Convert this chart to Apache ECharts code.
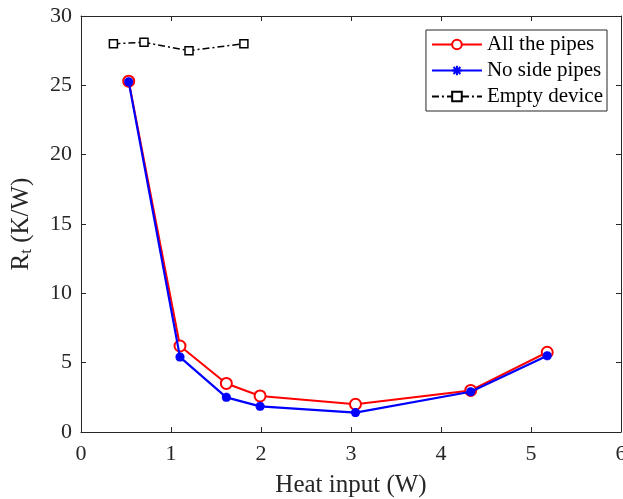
<!DOCTYPE html>
<html><head><meta charset="utf-8">
<script src="https://cdn.jsdelivr.net/npm/echarts@6/dist/echarts.min.js"></script>
<style>html,body{margin:0;padding:0;background:#fff}#c{width:623px;height:499px}</style>
</head><body><div id="c"></div>
<script>
const allX = [0.53, 1.10, 1.615, 1.99, 3.05, 4.33, 5.18];
const allY = [25.3, 6.2, 3.5, 2.6, 2.0, 3.0, 5.75];
const noSideX = [0.53, 1.10, 1.615, 1.99, 3.05, 4.33, 5.18];
const noSideY = [25.25, 5.4, 2.5, 1.85, 1.4, 2.9, 5.5];
const emptyX = [0.36, 0.70, 1.20, 1.81];
const emptyY = [28.0, 28.1, 27.5, 28.0];
const names = ['All the pipes', 'No side pipes', 'Empty device'];
const zip = (a, b) => a.map((v, i) => [v, b[i]]);
const font = 'Liberation Serif, Times New Roman, serif';
const axCol = '#262626';
const chart = echarts.init(document.getElementById('c'));
const asterisk = 'path://M0,-5L0,5M-5,0L5,0M-3.6,-3.6L3.6,3.6M-3.6,3.6L3.6,-3.6';
const baseAxis = {
  axisLine: {show: true, onZero: false, lineStyle: {color: axCol, width: 1}},
  axisTick: {show: true, inside: true, length: 5, lineStyle: {color: axCol}},
  splitLine: {show: false}
};
chart.setOption({
  animation: false,
  backgroundColor: '#fff',
  textStyle: {fontFamily: font},
  grid: {left: 81, right: 2, top: 16, bottom: 67, containLabel: false, outerBoundsMode: 'none'},
  legend: {
    data: names, orient: 'vertical', right: 16, top: 30,
    backgroundColor: '#fff', borderColor: axCol, borderWidth: 1,
    padding: [4, 4, 4, 5], itemGap: 5, itemWidth: 50, itemHeight: 12,
    textStyle: {fontFamily: font, fontSize: 21, color: '#000'}
  },
  xAxis: [
    Object.assign({}, baseAxis, {type: 'value', min: 0, max: 6, interval: 1, position: 'bottom',
      name: 'Heat input (W)', nameLocation: 'middle', nameGap: 41,
      nameTextStyle: {fontFamily: font, fontSize: 25, color: axCol},
      axisLabel: {fontFamily: font, fontSize: 22, color: axCol, margin: 11}}),
    Object.assign({}, baseAxis, {type: 'value', min: 0, max: 6, interval: 1, position: 'top',
      axisLabel: {show: false}})
  ],
  yAxis: [
    Object.assign({}, baseAxis, {type: 'value', min: 0, max: 30, interval: 5, position: 'left',
      name: '{r|R}{s|t}{r| (K/W)}', nameLocation: 'middle', nameGap: 46,
      nameTextStyle: {rich: {
        r: {fontFamily: font, fontSize: 25, color: axCol},
        s: {fontFamily: font, fontSize: 17, color: axCol, verticalAlign: 'bottom', padding: [10, 0, 0, 0]}
      }},
      axisLabel: {fontFamily: font, fontSize: 22, color: axCol, margin: 9}}),
    Object.assign({}, baseAxis, {type: 'value', min: 0, max: 30, interval: 5, position: 'right',
      axisLabel: {show: false}})
  ],
  series: [
    {name: names[0], type: 'line', data: zip(allX, allY), symbol: 'circle', symbolSize: 11,
      showAllSymbol: true,
      lineStyle: {color: '#ff0000', width: 2}, itemStyle: {color: '#fff', borderColor: '#ff0000', borderWidth: 2},
      color: '#ff0000', z: 2},
    {name: names[1], type: 'line', data: zip(noSideX, noSideY), symbol: asterisk, symbolSize: 9,
      lineStyle: {color: '#0000ff', width: 2.2}, itemStyle: {color: '#0000ff', borderColor: '#0000ff', borderWidth: 3},
      color: '#0000ff', z: 3},
    {name: names[2], type: 'line', data: zip(emptyX, emptyY), symbol: 'rect', symbolSize: 8,
      lineStyle: {color: '#000', width: 1.5, type: [7, 3, 2, 3]},
      itemStyle: {color: '#fff', borderColor: '#000', borderWidth: 1.5},
      color: '#000', z: 4}
  ]
});
</script></body></html>
